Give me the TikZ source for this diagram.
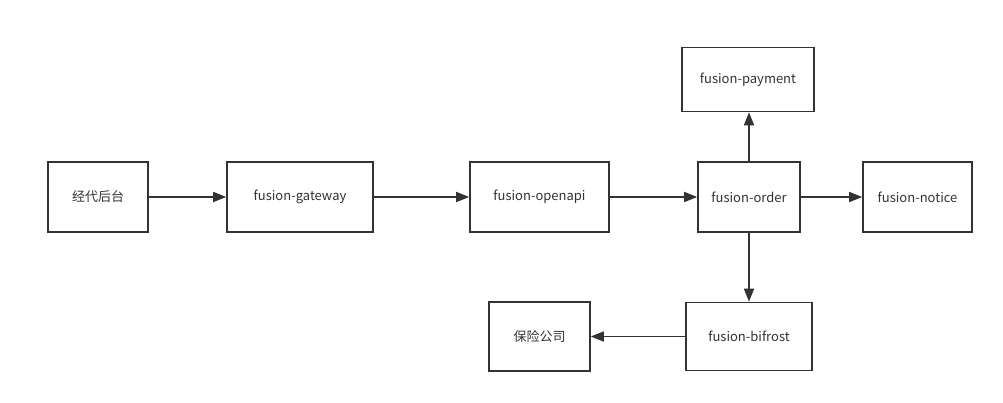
\documentclass[tikz,border=0pt]{standalone}
\usepackage{fontspec}
\setmainfont{Noto Sans CJK SC}
\usetikzlibrary{arrows.meta}
\definecolor{ink}{HTML}{333333}
\tikzset{
  box/.style={draw=ink, line width=1.6pt, fill=white, inner sep=0pt, text=ink, font=\fontsize{13}{15}\selectfont},
  link/.style={draw=ink, line width=1.6pt, -{Triangle[length=13pt,width=10pt]}}
}
\begin{document}
\begin{tikzpicture}[x=1pt,y=-1pt]
\useasboundingbox (0,0) rectangle (1003,403);
\node[box, minimum width=100pt, minimum height=70pt] (jd) at (98,197) {经代后台};
\node[box, minimum width=146pt, minimum height=70pt] (gw) at (300,197) {fusion-gateway};
\node[box, minimum width=139pt, minimum height=70pt] (oa) at (539.5,197) {fusion-openapi};
\node[box, minimum width=102pt, minimum height=70pt] (od) at (749,197) {fusion-order};
\node[box, minimum width=109pt, minimum height=70pt] (nt) at (917.5,197) {fusion-notice};
\node[box, minimum width=132pt, minimum height=64pt] (pm) at (748,79.5) {fusion-payment};
\node[box, minimum width=126pt, minimum height=68pt] (bf) at (749,336.5) {fusion-bifrost};
\node[box, minimum width=101pt, minimum height=69pt] (bx) at (539.5,336.5) {保险公司};
\draw[link] (jd.east) -- (gw.west);
\draw[link] (gw.east) -- (oa.west);
\draw[link] (oa.east) -- (od.west);
\draw[link] (od.east) -- (nt.west);
\draw[link] (od.north) -- (od.north |- pm.south);
\draw[link] (od.south) -- (od.south |- bf.north);
\draw[link] (bf.west) -- (bx.east);
\end{tikzpicture}
\end{document}
